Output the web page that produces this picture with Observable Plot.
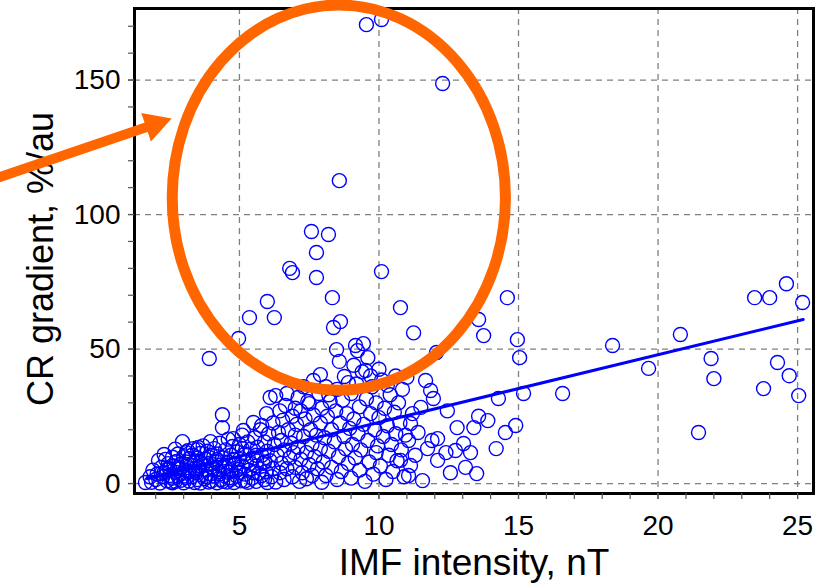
<!DOCTYPE html>
<html>
<head>
<meta charset="utf-8">
<script src="https://cdn.jsdelivr.net/npm/d3@7"></script>
<script src="https://cdn.jsdelivr.net/npm/@observablehq/plot@0.6"></script>
<style>
  html, body { margin: 0; padding: 0; background: #ffffff; }
  #chart svg { display: block; }
</style>
</head>
<body>
<div id="chart"></div>
<script>
// ---- Data (IMF intensity, nT  vs  CR gradient, %/au) ----
const imfIntensity = [
  // x < 3
  1.63,1.8,1.85,1.9,2.0,2.05,2.1,2.15,2.2,2.25,2.3,2.35,2.4,2.45,2.5,2.5,2.55,2.6,2.6,2.65,2.7,2.7,2.75,2.8,2.8,2.85,2.9,2.9,2.96,2.95,
  // 3 - 4
  3.0,3.0,3.05,3.1,3.1,3.15,3.2,3.2,3.25,3.3,3.3,3.35,3.4,3.4,3.45,3.5,3.5,3.53,3.55,3.6,3.6,3.65,3.7,3.7,3.75,3.8,3.8,3.85,3.9,3.92,3.95,3.96,3.95,
  // 4 - 5
  4.0,4.0,4.05,4.1,4.1,4.15,4.2,4.2,4.25,4.3,4.3,4.35,4.39,4.39,4.4,4.45,4.5,4.5,4.55,4.6,4.6,4.65,4.7,4.7,4.75,4.78,4.8,4.85,4.9,4.9,4.95,4.97,
  // 5 - 6
  5.0,5.0,5.05,5.1,5.1,5.14,5.2,5.2,5.25,5.3,5.3,5.35,5.36,5.4,5.45,5.5,5.5,5.55,5.6,5.6,5.65,5.7,5.75,5.8,5.8,5.85,5.9,5.9,5.95,5.97,
  // 6 - 7
  6.0,6.0,6.05,6.1,6.1,6.15,6.2,6.2,6.25,6.25,6.3,6.3,6.35,6.4,6.45,6.45,6.5,6.5,6.55,6.6,6.6,6.65,6.7,6.75,6.8,6.8,6.85,6.9,6.9,6.9,6.95,
  // 7 - 8
  7.0,7.0,7.05,7.1,7.1,7.15,7.2,7.2,7.25,7.3,7.35,7.4,7.4,7.45,7.5,7.5,7.55,7.58,7.6,7.6,7.65,7.65,7.7,7.75,7.76,7.76,7.8,7.85,7.9,7.9,7.95,7.95,
  // 8 - 9
  8.0,8.05,8.1,8.1,8.15,8.19,8.2,8.25,8.3,8.3,8.33,8.37,8.4,8.45,8.48,8.5,8.5,8.55,8.58,8.58,8.6,8.62,8.65,8.7,8.76,8.75,8.8,8.85,8.9,8.95,
  // 9 - 10
  9.0,9.0,9.05,9.1,9.16,9.15,9.2,9.23,9.25,9.3,9.3,9.35,9.4,9.44,9.45,9.5,9.52,9.55,9.55,9.6,9.6,9.65,9.7,9.75,9.8,9.85,9.9,9.9,9.95,
  // 10 - 11
  10.0,10.05,10.09,10.09,10.1,10.15,10.2,10.25,10.3,10.35,10.4,10.45,10.5,10.55,10.6,10.65,10.7,10.77,10.75,10.77,10.8,10.84,10.9,10.95,
  // 11 - 17
  11.06,11.06,11.13,11.13,11.2,11.24,11.3,11.4,11.5,11.56,11.67,11.74,11.85,11.9,11.95,12.06,12.1,12.1,12.28,12.4,12.45,12.56,12.74,12.8,13.03,13.1,13.28,13.4,13.5,13.57,13.57,13.75,13.9,14.2,14.28,14.53,14.6,14.9,14.96,15.04,15.18,16.58,
  // > 17
  18.37,19.66,20.8,21.45,21.9,22.0,23.46,23.78,24.0,24.28,24.6,24.7,25.04,25.18,
  // extra points in the dense low cluster
  2.2,2.4,2.6,2.8,3.0,3.2,3.4,3.6,3.8,4.0,4.2,4.4,4.6,4.8,5.0,5.2,5.4,5.6,5.8,6.0,2.3,2.7,3.1,3.5,3.9,4.3,4.7,5.1,5.5,5.9,
  // extra points in the 7 - 11 band
  7.3,7.9,8.2,8.9,9.1,9.7,10.0,10.3,10.6,11.0,7.0,6.7
];
const crGradient = [
  // x < 3
  0.4,2.5,0.5,5.0,1.5,3.5,8.6,0.2,6.0,2.5,4.0,9.0,1.0,7.4,3.0,5.5,0.6,9.8,2.0,6.5,4.2,0.8,8.2,11.0,2.8,5.5,1.2,7.2,15.6,3.8,
  // 3 - 4
  10.0,0.3,5.0,2.2,8.0,12.2,0.9,4.5,6.8,10.5,2.6,13.0,0.4,7.8,4.0,9.5,1.5,13.4,5.8,0.2,11.2,3.2,7.0,14.0,1.8,9.0,5.0,12.0,0.6,46.5,3.5,15.6,7.6,
  // 4 - 5
  10.4,1.0,5.5,13.0,2.8,8.2,0.3,11.0,4.5,6.8,15.0,1.5,25.6,20.8,9.5,3.0,12.5,6.0,0.6,16.5,8.0,2.2,10.5,4.8,13.8,16.7,0.4,7.0,11.8,2.8,5.2,53.9,
  // 5 - 6
  9.0,14.5,1.0,18.0,6.5,19.7,3.5,11.0,8.0,15.5,0.5,5.0,61.7,12.8,2.0,22.7,9.5,17.0,6.5,0.8,13.5,3.8,20.0,21.6,10.5,7.5,1.5,15.5,4.5,26.0,
  // 6 - 7
  67.7,12.0,18.5,32.0,8.5,2.5,22.5,5.5,61.7,14.5,32.7,0.6,10.5,19.0,27.0,4.0,16.0,7.5,23.5,1.5,12.5,29.0,5.5,20.0,80.0,9.5,15.0,78.4,25.0,2.5,11.5,
  // 7 - 8
  18.0,6.0,22.0,32.0,13.5,0.8,27.0,9.0,4.0,17.5,24.0,11.5,1.8,30.5,29.7,7.0,20.0,93.7,14.5,3.0,38.3,25.5,10.0,18.0,85.9,76.6,5.5,33.5,22.5,13.0,0.5,28.0,
  // 8 - 9
  8.0,17.0,36.0,3.0,25.0,92.6,12.0,30.5,20.0,6.0,69.1,58.0,15.5,27.0,49.8,1.5,35.0,10.0,112.6,45.4,22.5,60.2,4.5,31.0,39.8,17.5,13.0,26.0,7.5,20.5,
  // 9 - 10
  33.5,2.0,14.5,24.0,51.3,9.5,37.0,49.4,18.5,28.5,5.0,12.5,41.5,52.0,22.0,0.8,42.0,170.6,31.5,46.8,16.0,8.0,26.0,36.0,3.5,20.0,11.5,30.0,14.0,
  // 10 - 11
  24.5,6.5,172.5,78.8,38.5,17.5,28.0,1.5,21.5,10.5,33.0,14.5,4.5,26.5,18.5,8.5,30.0,65.4,22.5,8.6,12.5,35.0,2.5,18.0,
  // 11 - 17
  3.0,16.0,6.7,22.3,26.0,56.0,10.5,19.0,28.3,1.1,38.3,13.0,34.6,16.0,31.6,48.7,16.7,8.6,148.7,11.5,27.0,4.0,12.3,20.8,14.9,6.0,11.5,20.8,3.7,61.0,25.0,55.0,23.4,13.0,31.6,19.0,69.1,21.6,53.5,46.8,33.5,33.5,
  // > 17
  51.3,42.8,55.4,19.0,46.5,39.0,69.1,35.3,69.1,45.0,74.3,40.1,32.7,67.3,
  // extra points in the dense low cluster
  3.8,5.2,0.3,6.0,2.8,9.2,5.5,7.8,2.6,6.2,9.0,0.8,4.2,9.0,4.0,1.0,7.5,10.5,3.0,0.4,10.8,12.8,11.5,12.6,9.8,3.6,1.6,13.0,4.0,8.0,
  // extra points in the 7 - 11 band
  36.0,40.5,33.0,37.5,44.0,40.0,42.5,36.5,40.0,39.5,28.0,33.5
];

// Regression line end points
const fitIntensity = [1.7, 25.2];
const fitGradient = [1.8, 61.0];

// Axis ticks
const xMajorTicks = [5, 10, 15, 20, 25];
const xMinorTicks = [2,3,4,5,6,7,8,9,10,11,12,13,14,15,16,17,18,19,20,21,22,23,24,25];
const yMajorTicks = [0, 50, 100, 150];
const yMinorTicks = [0,10,20,30,40,50,60,70,80,90,100,110,120,130,140,150,160,170];

// Texts
const xTitle = "IMF intensity, nT";
const yTitle = "CR gradient, %/au";

// Annotation (orange ellipse and arrow), in data units
const ellipseCenter = [8.58, 106.1];
const ellipseRadii = [5.97, 71.6];
const arrowStart = [-3.7, 113.3];
const arrowTip = [2.59, 135.5];

// ---- Build ----
const points = imfIntensity.map((x, i) => ({x, y: crGradient[i]}));
const fit = fitIntensity.map((x, i) => ({x, y: fitGradient[i]}));

const orange = "#ff6600";
const blue = "#0000ff";

function annotation(index, scales) {
  const sx = scales.x, sy = scales.y;
  const ns = "http://www.w3.org/2000/svg";
  const g = document.createElementNS(ns, "g");
  const cx = sx(ellipseCenter[0]), cy = sy(ellipseCenter[1]);
  const rx = Math.abs(sx(ellipseCenter[0] + ellipseRadii[0]) - cx);
  const ry = Math.abs(sy(ellipseCenter[1] + ellipseRadii[1]) - cy);
  const e = document.createElementNS(ns, "ellipse");
  e.setAttribute("cx", cx); e.setAttribute("cy", cy);
  e.setAttribute("rx", rx); e.setAttribute("ry", ry);
  e.setAttribute("fill", "none"); e.setAttribute("stroke", orange);
  e.setAttribute("stroke-width", 11);
  g.appendChild(e);

  const x0 = sx(arrowStart[0]), y0 = sy(arrowStart[1]);
  const x1 = sx(arrowTip[0]), y1 = sy(arrowTip[1]);
  const dx = x1 - x0, dy = y1 - y0, L = Math.hypot(dx, dy);
  const ux = dx / L, uy = dy / L, px = -uy, py = ux;
  const headLen = 27, headHalf = 15;
  const bx = x1 - ux * headLen, by = y1 - uy * headLen;
  const shaft = document.createElementNS(ns, "line");
  shaft.setAttribute("x1", x0); shaft.setAttribute("y1", y0);
  shaft.setAttribute("x2", bx + ux * 2); shaft.setAttribute("y2", by + uy * 2);
  shaft.setAttribute("stroke", orange); shaft.setAttribute("stroke-width", 10);
  g.appendChild(shaft);
  const head = document.createElementNS(ns, "polygon");
  head.setAttribute("points",
    `${x1},${y1} ${bx + px * headHalf},${by + py * headHalf} ${bx - px * headHalf},${by - py * headHalf}`);
  head.setAttribute("fill", orange);
  g.appendChild(head);
  return g;
}

const gridStyle = {stroke: "#808080", strokeOpacity: 1, strokeWidth: 1.3, strokeDasharray: "6,5"};

const chart = Plot.plot({
  width: 832,
  height: 587,
  marginLeft: 134,
  marginRight: 19,
  marginTop: 8,
  marginBottom: 94,
  style: {fontFamily: "'Liberation Sans', Arial, sans-serif", color: "#000", background: "#fff", overflow: "visible"},
  x: {domain: [1.24, 25.57]},
  y: {domain: [-3.7, 176.6]},
  marks: [
    Plot.gridX(xMajorTicks, gridStyle),
    Plot.gridY(yMajorTicks, gridStyle),
    Plot.dot(points, {x: "x", y: "y", r: 7, stroke: blue, strokeWidth: 1.4, fill: "none"}),
    Plot.line(fit, {x: "x", y: "y", stroke: blue, strokeWidth: 3}),
    Plot.frame({stroke: "#000", strokeWidth: 3}),
    Plot.axisX(xMinorTicks, {tickSize: 6, tickFormat: () => "", label: null, strokeWidth: 1.2, stroke: "#555"}),
    Plot.axisX(xMajorTicks, {tickSize: 6, tickPadding: 16, fontSize: 28, label: null, strokeWidth: 1.2, stroke: "#555"}),
    Plot.axisY(yMinorTicks, {tickSize: 6, tickFormat: () => "", label: null, strokeWidth: 1.2, stroke: "#555"}),
    Plot.axisY(yMajorTicks, {tickSize: 6, tickPadding: 8, fontSize: 28, label: null, strokeWidth: 1.2, stroke: "#555"}),
    Plot.text([xTitle], {frameAnchor: "bottom", textAnchor: "middle", lineAnchor: "middle", dy: 70, fontSize: 37, fill: "#000"}),
    Plot.text([yTitle], {frameAnchor: "left", textAnchor: "middle", lineAnchor: "middle", rotate: -90, dx: -93, dy: 8, fontSize: 36, fill: "#000"}),
    annotation
  ]
});
document.getElementById("chart").appendChild(chart);
</script>
</body>
</html>
